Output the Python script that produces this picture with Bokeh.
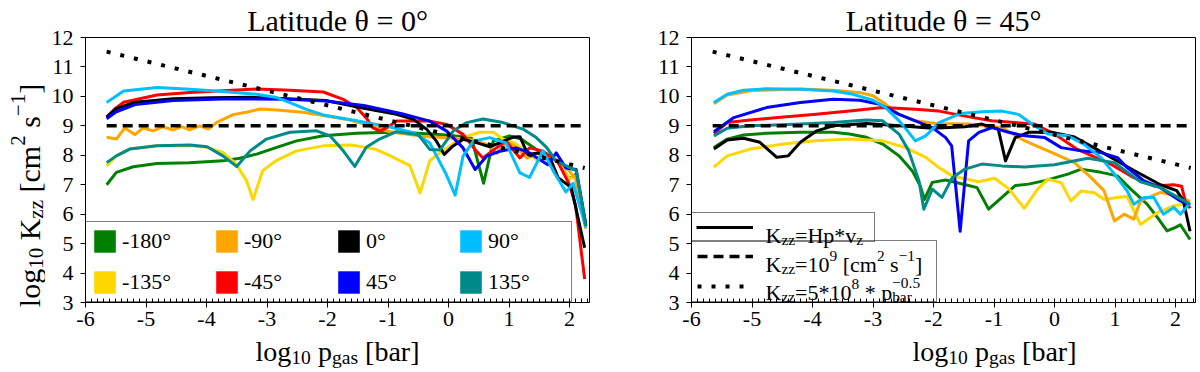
from bokeh.plotting import figure
from bokeh.models import Range1d, SingleIntervalTicker, Legend, LegendItem, Title
from bokeh.core.properties import value
from bokeh.layouts import row, column
from bokeh.embed import file_html
from bokeh.resources import INLINE

FONT = "Liberation Serif"
AXFONT = "Times New Roman"

# ---------------- data ----------------
LONGITUDES = ["-180°", "-135°", "-90°", "-45°", "0°", "45°", "90°", "135°"]
COLORS = ["#008000", "#FFD700", "#FFA500", "#FF0000", "#000000", "#0000FF", "#00BFFF", "#008B8B"]

# Latitude 0 deg panel
green0_x = [-5.65, -5.49, -5.21, -4.82, -4.28, -3.73, -3.45, -3.17, -2.84, -2.51, -2.07, -1.52, -0.97, -0.5, -0.1, 0.2, 0.38, 0.58, 0.74, 1.01, 1.2, 1.43, 1.6, 1.8, 2.0, 2.1, 2.27]
green0_y = [7.0, 7.42, 7.61, 7.72, 7.75, 7.81, 7.9, 8.04, 8.27, 8.49, 8.66, 8.75, 8.78, 8.75, 8.7, 8.64, 8.58, 7.05, 8.49, 8.66, 8.55, 8.23, 8.0, 7.8, 7.2, 7.35, 5.6]
yellow0_x = [-5.65, -5.49, -5.27, -4.82, -4.27, -3.99, -3.73, -3.51, -3.34, -3.23, -3.07, -2.85, -2.51, -2.07, -1.6, -1.2, -0.97, -0.64, -0.47, -0.31, -0.09, 0.24, 0.52, 0.74, 0.9, 1.1, 1.3, 1.45, 1.6, 1.8, 2.0, 2.1, 2.27]
yellow0_y = [7.64, 7.98, 8.21, 8.32, 8.32, 8.27, 8.1, 7.7, 7.14, 6.5, 7.48, 7.82, 8.15, 8.32, 8.35, 8.2, 7.99, 7.65, 6.72, 7.82, 8.16, 8.61, 8.78, 8.78, 8.55, 8.4, 8.1, 7.85, 8.05, 7.8, 7.2, 7.3, 5.6]
orange0_x = [-5.65, -5.49, -5.35, -5.18, -5.05, -4.88, -4.72, -4.55, -4.41, -4.28, -4.11, -3.97, -3.83, -3.56, -3.34, -3.12, -2.84, -2.41, -2.07, -1.63, -1.3, -0.97, -0.46, 0.17, 0.45, 0.65, 0.8, 0.95, 1.1, 1.3, 1.5, 1.7, 1.9, 2.1, 2.27]
orange0_y = [8.61, 8.55, 8.93, 8.7, 8.93, 8.83, 8.97, 8.86, 8.97, 8.86, 9.0, 8.89, 9.12, 9.38, 9.46, 9.57, 9.54, 9.46, 9.35, 9.2, 9.0, 8.8, 8.65, 8.57, 8.5, 8.35, 8.06, 8.46, 8.3, 7.9, 8.1, 7.9, 7.7, 7.2, 5.5]
red0_x = [-5.65, -5.5, -5.37, -4.82, -4.28, -3.73, -3.17, -2.62, -2.07, -1.74, -1.52, -1.36, -1.25, -1.13, -0.97, -0.86, -0.31, -0.03, 0.24, 0.46, 0.57, 0.79, 0.95, 1.18, 1.34, 1.56, 1.8, 2.0, 2.1, 2.25]
red0_y = [9.3, 9.6, 9.8, 10.05, 10.13, 10.19, 10.25, 10.21, 10.15, 9.9, 9.62, 9.27, 8.93, 8.82, 9.0, 9.16, 9.16, 9.05, 8.71, 8.14, 7.91, 8.25, 8.48, 7.91, 8.25, 8.14, 7.8, 7.0, 6.3, 3.8]
black0_x = [-5.65, -5.5, -5.18, -4.55, -3.92, -3.29, -2.66, -2.03, -1.4, -0.86, -0.58, -0.36, -0.2, -0.07, 0.07, 0.24, 0.46, 0.68, 0.85, 1.07, 1.18, 1.31, 1.48, 1.7, 1.81, 2.03, 2.25]
black0_y = [9.3, 9.58, 9.8, 9.92, 9.95, 9.97, 9.92, 9.86, 9.6, 9.39, 9.22, 8.88, 8.48, 8.03, 8.31, 8.54, 8.43, 8.29, 8.43, 8.62, 8.63, 8.03, 8.08, 7.8, 7.24, 6.9, 4.86]
blue0_x = [-5.65, -5.5, -5.18, -4.55, -3.6, -2.66, -2.03, -1.4, -0.77, -0.31, -0.03, 0.24, 0.44, 0.63, 0.85, 1.12, 1.34, 1.64, 1.78, 1.94, 2.11, 2.27]
blue0_y = [9.24, 9.47, 9.72, 9.86, 9.92, 9.9, 9.84, 9.69, 9.41, 9.16, 8.82, 8.25, 7.52, 7.97, 8.14, 8.25, 8.08, 7.68, 8.08, 7.57, 7.52, 5.65]
cyan0_x = [-5.65, -5.37, -4.82, -4.27, -3.73, -3.17, -2.84, -2.62, -2.35, -2.07, -1.52, -0.97, -0.58, -0.31, -0.05, 0.11, 0.24, 0.41, 0.68, 0.95, 1.18, 1.34, 1.56, 1.75, 1.94, 2.06, 2.27]
cyan0_y = [9.79, 10.18, 10.3, 10.24, 10.17, 10.07, 9.96, 9.79, 9.56, 9.37, 9.17, 8.96, 8.77, 8.42, 7.4, 6.65, 7.97, 8.48, 8.6, 8.42, 7.4, 7.25, 8.15, 7.4, 6.75, 7.05, 5.55]
teal0_x = [-5.65, -5.49, -5.27, -4.82, -4.27, -3.99, -3.73, -3.5, -3.28, -3.01, -2.62, -2.18, -1.96, -1.74, -1.55, -1.36, -1.14, -0.86, -0.5, -0.31, -0.14, 0.08, 0.3, 0.57, 0.9, 1.23, 1.45, 1.62, 1.78, 2.11, 2.27]
teal0_y = [7.75, 7.98, 8.21, 8.32, 8.35, 8.29, 7.98, 7.62, 8.15, 8.55, 8.78, 8.83, 8.66, 8.15, 7.62, 8.27, 8.55, 8.8, 8.7, 8.2, 8.18, 8.83, 9.11, 9.23, 9.11, 8.89, 8.6, 8.27, 7.8, 7.48, 5.6]

# Latitude 45 deg panel
green45_x = [-5.63, -5.41, -5.14, -4.76, -4.2, -3.66, -3.39, -3.11, -2.84, -2.57, -2.35, -2.22, -2.15, -2.02, -1.8, -1.47, -1.28, -1.09, -0.87, -0.65, -0.43, -0.16, 0.22, 0.44, 0.77, 1.04, 1.26, 1.53, 1.7, 1.86, 2.0, 2.08, 2.24]
green45_y = [8.26, 8.55, 8.69, 8.75, 8.78, 8.78, 8.72, 8.61, 8.38, 7.98, 7.47, 6.96, 6.5, 7.08, 7.16, 7.0, 6.9, 6.17, 6.57, 6.97, 7.02, 7.14, 7.36, 7.53, 7.42, 7.3, 6.85, 6.34, 5.89, 5.43, 5.55, 5.64, 5.14]
yellow45_x = [-5.63, -5.41, -5.03, -4.48, -3.94, -3.39, -2.84, -2.46, -2.13, -1.91, -1.69, -1.26, -0.99, -0.75, -0.5, -0.28, -0.11, 0.11, 0.27, 0.44, 0.66, 0.82, 1.04, 1.2, 1.42, 1.7, 1.97, 2.24]
yellow45_y = [7.6, 7.98, 8.21, 8.38, 8.49, 8.55, 8.49, 8.26, 7.93, 7.58, 7.3, 7.1, 7.22, 6.85, 6.2, 6.85, 7.19, 7.07, 6.45, 6.79, 6.73, 6.5, 6.57, 6.6, 5.65, 6.05, 6.28, 6.4]
orange45_x = [-5.63, -5.41, -5.0, -4.2, -3.6, -3.2, -3.0, -2.79, -2.57, -2.3, -1.97, -1.42, -0.87, -0.49, -0.05, 0.33, 0.6, 0.82, 0.99, 1.15, 1.31, 1.42, 1.75, 1.95, 2.24]
orange45_y = [9.75, 10.05, 10.2, 10.25, 10.2, 10.12, 10.02, 9.73, 9.39, 9.17, 9.08, 9.06, 8.94, 8.49, 8.1, 7.75, 7.25, 6.79, 5.77, 6.0, 5.83, 6.45, 6.74, 6.65, 6.43]
red45_x = [-5.63, -5.41, -5.03, -4.48, -3.94, -3.39, -2.84, -2.3, -1.91, -1.48, -1.04, -0.33, 0.0, 0.38, 0.93, 1.31, 1.64, 1.97, 2.1, 2.16, 2.24]
red45_y = [8.74, 9.11, 9.2, 9.3, 9.39, 9.5, 9.62, 9.56, 9.5, 9.33, 9.17, 9.06, 8.72, 8.2, 7.7, 7.24, 6.96, 7.0, 6.95, 6.45, 6.2]
black45_x = [-5.63, -5.41, -5.14, -4.87, -4.59, -4.4, -4.2, -3.93, -3.66, -3.11, -2.57, -2.02, -1.48, -1.2, -0.93, -0.81, -0.65, -0.43, -0.05, 0.33, 0.7, 1.0, 1.3, 1.75, 2.02, 2.13, 2.24]
black45_y = [8.21, 8.52, 8.58, 8.44, 7.93, 7.98, 8.44, 8.83, 9.0, 9.08, 9.0, 8.92, 8.97, 9.06, 8.89, 7.81, 8.6, 8.78, 8.78, 8.62, 8.2, 7.85, 7.5, 7.0, 6.8, 6.45, 5.42]
blue45_x = [-5.63, -5.3, -4.76, -4.2, -3.66, -3.22, -2.89, -2.57, -2.3, -2.02, -1.8, -1.7, -1.56, -1.42, -1.25, -1.03, -0.76, -0.49, -0.16, 0.11, 0.44, 0.77, 1.04, 1.2, 1.48, 1.75, 2.08, 2.24]
blue45_y = [8.8, 9.28, 9.62, 9.79, 9.9, 9.87, 9.73, 9.39, 9.17, 8.94, 8.6, 8.32, 5.42, 8.49, 8.78, 8.94, 8.78, 8.66, 8.6, 8.26, 8.15, 8.09, 7.92, 7.58, 7.13, 6.9, 6.45, 6.3]
cyan45_x = [-5.63, -5.41, -5.14, -4.76, -4.2, -3.66, -3.33, -3.0, -2.79, -2.57, -2.43, -2.3, -2.13, -1.91, -1.55, -1.2, -0.87, -0.6, -0.33, -0.11, 0.22, 0.49, 0.77, 0.99, 1.2, 1.31, 1.48, 1.64, 1.8, 1.97, 2.08, 2.24]
cyan45_y = [9.79, 10.07, 10.21, 10.26, 10.24, 10.18, 10.07, 9.87, 9.62, 9.17, 8.83, 8.49, 8.66, 9.11, 9.42, 9.48, 9.5, 9.39, 9.0, 8.72, 8.66, 8.37, 7.92, 7.36, 6.79, 6.34, 6.57, 6.57, 6.0, 6.23, 6.0, 6.38]
teal45_x = [-5.63, -5.41, -5.03, -4.2, -3.66, -3.11, -2.84, -2.57, -2.41, -2.24, -2.16, -2.02, -1.86, -1.69, -1.48, -1.2, -0.87, -0.5, 0.0, 0.55, 0.99, 1.42, 1.75, 2.24]
teal45_y = [8.66, 8.92, 9.0, 9.06, 9.11, 9.2, 9.17, 8.72, 8.15, 7.13, 6.17, 6.85, 6.57, 7.24, 7.53, 7.7, 7.64, 7.6, 7.68, 7.9, 7.75, 7.1, 6.9, 6.34]

# reference lines (Kzz = 1e9, Kzz = 5e8 * p^-0.5), end points only
ref_x = [-5.65, 2.25]
const_y = [9.0, 9.0]
power_y = [11.52, 7.57]

X_TICKS = [-6, -5, -4, -3, -2, -1, 0, 1, 2]
X_RANGE = (-6, 2.33)
Y_RANGE = (3, 12)
TITLES = ["Latitude θ = 0°", "Latitude θ = 45°"]

PANEL0 = [(green0_x, green0_y), (yellow0_x, yellow0_y), (orange0_x, orange0_y), (red0_x, red0_y),
          (black0_x, black0_y), (blue0_x, blue0_y), (cyan0_x, cyan0_y), (teal0_x, teal0_y)]
PANEL45 = [(green45_x, green45_y), (yellow45_x, yellow45_y), (orange45_x, orange45_y), (red45_x, red45_y),
           (black45_x, black45_y), (blue45_x, blue45_y), (cyan45_x, cyan45_y), (teal45_x, teal45_y)]

# ---------------- text helper (rich text from several text glyphs) ----------------
W = {' ': 0.25, '-': 0.333, '−': 0.564, '°': 0.4, '=': 0.564, '*': 0.5, '[': 0.333, ']': 0.333, '.': 0.25,
     'a': 0.444, 'b': 0.5, 'c': 0.444, 'd': 0.5, 'e': 0.444, 'g': 0.5, 'i': 0.278, 'l': 0.278, 'm': 0.778,
     'o': 0.5, 'p': 0.5, 'r': 0.333, 's': 0.389, 't': 0.278, 'u': 0.5, 'v': 0.5, 'z': 0.444,
     'H': 0.722, 'K': 0.722, 'L': 0.611, 'θ': 0.5}


def tw(s, size):
    return sum(W.get(c, 0.5) for c in s) * size


def rich(p, pieces, x, y, size, angle=0.0, center=True, kx=1.0, ky=1.0):
    """x, y: anchor on the baseline (data units); kx, ky: pixels per data unit."""
    segs = []
    adv = 0.0
    prev_start = 0.0
    for text, kind in pieces:
        s = size * 0.7 if kind in ("sub", "sup", "sup0") else size
        dy = {"sub": -0.2 * size, "sup": 0.38 * size, "sup0": 0.42 * size}.get(kind, 0.0)
        body = text.lstrip(" ")
        lead = len(text) - len(body)
        if kind == "sup0":
            start = prev_start
            adv = max(adv, start + tw(body, s))
        else:
            start = adv + lead * 0.25 * s
            prev_start = start
            adv = start + tw(body, s)
        segs.append((body, s, start, dy))
    base = -adv / 2 if center else 0.0
    for body, s, start, dy in segs:
        along = base + start
        if angle == 0:
            px, py = along, dy
        else:
            px, py = -dy, along
        p.text(x=[x + px / kx], y=[y + py / ky], text=[body], angle=angle,
               text_font=value(FONT), text_font_size=value(f"{s:.1f}px"),
               text_baseline=value("alphabetic"), text_align=value("left"), text_color="black")


def text_fig(w, h):
    p = figure(frame_width=w, frame_height=h, x_range=Range1d(0, w), y_range=Range1d(0, h),
               x_axis_type=None, y_axis_type=None, min_border=0,
               min_border_left=0, min_border_right=0, min_border_top=0, min_border_bottom=0,
               title=None, output_backend="svg", toolbar_location=None)
    p.outline_line_color = None
    p.grid.visible = False
    return p


FW, FH = 504, 265
TOP, BOT = 37, 36
KX = FW / (X_RANGE[1] - X_RANGE[0])
KY = FH / (Y_RANGE[1] - Y_RANGE[0])


def make_fig(bl, br, title):
    p = figure(frame_width=FW, frame_height=FH, min_border_left=bl, min_border_right=br,
               min_border_top=TOP, min_border_bottom=BOT, title=None,
               x_range=Range1d(*X_RANGE), y_range=Range1d(*Y_RANGE),
               output_backend="svg", toolbar_location=None)
    p.add_layout(Title(text=title, align="center", text_font=FONT, text_font_size="30px",
                       text_font_style="normal", text_color="black", standoff=2), "above")
    p.grid.visible = False
    p.outline_line_color = "black"
    p.outline_line_alpha = 1
    p.outline_line_width = 1
    p.xaxis.ticker = SingleIntervalTicker(interval=1, num_minor_ticks=10)
    p.yaxis.ticker = SingleIntervalTicker(interval=1, num_minor_ticks=0)
    p.xaxis.major_label_overrides = {t: str(t) for t in X_TICKS}
    for ax in p.axis:
        ax.axis_line_color = "black"
        ax.major_tick_line_color = "black"
        ax.major_tick_out = 5
        ax.major_tick_in = 0
        ax.major_label_text_font = AXFONT
        ax.major_label_text_font_size = "22px"
        ax.major_label_text_color = "black"
    p.xaxis.minor_tick_in = 4
    p.xaxis.minor_tick_out = 0
    p.xaxis.minor_tick_line_color = "black"
    p.yaxis.minor_tick_line_color = None
    p.xaxis.major_label_standoff = 4
    p.yaxis.major_label_standoff = 7
    return p


def draw_panel(p, panel):
    rs = []
    for (xs, ys), c in zip(panel, COLORS):
        rs.append(p.line(xs, ys, line_color=c, line_width=3, line_join="round"))
    r_const = p.line(ref_x, const_y, line_color="black", line_width=3.5, line_dash="10 6")
    r_pow = p.line(ref_x, power_y, line_color="black", line_width=4, line_dash="4 10")
    return rs, r_const, r_pow


XLABEL = [("log", "n"), ("10", "sub"), (" p", "n"), ("gas", "sub"), (" [bar]", "n")]
YLABEL = [("log", "n"), ("10", "sub"), (" K", "n"), ("zz", "sub"), (" [cm", "n"), ("2", "sup"),
          (" s", "n"), ("−1", "sup"), ("]", "n")]

H_MAIN = TOP + FH + BOT          # 338
H_XLAB = 372 - H_MAIN            # 34
YLAB_W = 45
XLAB_BASE = 21                   # baseline height inside the x-label strip

# ---------------- left panel ----------------
p1 = make_fig(40, 51, TITLES[0])
draw_panel(p1, PANEL0)
proxies = {}
for name, c, (xs, ys) in zip(LONGITUDES, COLORS, PANEL0):
    # zero-size swatch at the series' first point, only used for the legend
    proxies[name] = p1.quad(left=xs[:1], right=xs[:1], top=ys[:1], bottom=ys[:1],
                            fill_color=c, line_color=None)
order = ["-180°", "-90°", "0°", "90°", "-135°", "-45°", "45°", "135°"]
leg1 = Legend(items=[LegendItem(label=n, renderers=[proxies[n]]) for n in order],
              location=(0, 0), ncols=4, orientation="horizontal", margin=0, padding=5, spacing=13,
              glyph_width=27, glyph_height=28, label_height=28, label_width=78, label_standoff=4,
              label_text_font=AXFONT, label_text_font_size="22px", label_text_color="black",
              border_line_color="black", border_line_width=1, background_fill_alpha=0)
p1.add_layout(leg1)

W1 = YLAB_W + 40 + FW + 51   # 640
x1 = text_fig(W1, H_XLAB)
rich(x1, XLABEL, YLAB_W + 40 + FW / 2, XLAB_BASE, 28)
yl = text_fig(YLAB_W, H_MAIN)
rich(yl, YLABEL, 29, 180, 30, angle=1.5707963)

# ---------------- right panel ----------------
p2 = make_fig(51, 5, TITLES[1])
rs2, rc, rp = draw_panel(p2, PANEL45)
legA = Legend(items=[LegendItem(label=" ", renderers=[rs2[4]])], location=(0, 60), margin=0,
              padding=4, spacing=0, glyph_width=57, glyph_height=20, label_height=20, label_width=104,
              label_standoff=13, label_text_font=AXFONT, label_text_font_size="22px",
              border_line_color="black", border_line_width=1, background_fill_alpha=0)
legB = Legend(items=[LegendItem(label=" ", renderers=[rc]), LegendItem(label=" ", renderers=[rp])],
              location=(0, 0), margin=0, padding=5, spacing=10, glyph_width=56, glyph_height=20,
              label_height=20, label_width=165, label_standoff=13, label_text_font=AXFONT,
              label_text_font_size="22px", border_line_color="black", border_line_width=1,
              background_fill_alpha=0)
p2.add_layout(legA)
p2.add_layout(legB)
LX = X_RANGE[0] + 74 / KX
rich(p2, [("K", "n"), ("zz", "sub"), ("=Hp*v", "n"), ("z", "sub")],
     LX, Y_RANGE[0] + 67 / KY, 22, center=False, kx=KX, ky=KY)
rich(p2, [("K", "n"), ("zz", "sub"), ("=10", "n"), ("9", "sup"), (" [cm", "n"), ("2", "sup"),
          (" s", "n"), ("−1", "sup"), ("]", "n")],
     LX, Y_RANGE[0] + 38 / KY, 22, center=False, kx=KX, ky=KY)
rich(p2, [("K", "n"), ("zz", "sub"), ("=5*10", "n"), ("8", "sup"), (" * p", "n"), ("bar", "sub"),
          ("−0.5", "sup0")],
     LX, Y_RANGE[0] + 10 / KY, 22, center=False, kx=KX, ky=KY)

W2 = 51 + FW + 5   # 560
x2 = text_fig(W2, H_XLAB)
rich(x2, XLABEL, 51 + FW / 2, XLAB_BASE, 28)

left = column(row(yl, p1), x1)
right = column(p2, x2)
layout = row(left, right)
open("out.html", "w").write(file_html(layout, INLINE))
